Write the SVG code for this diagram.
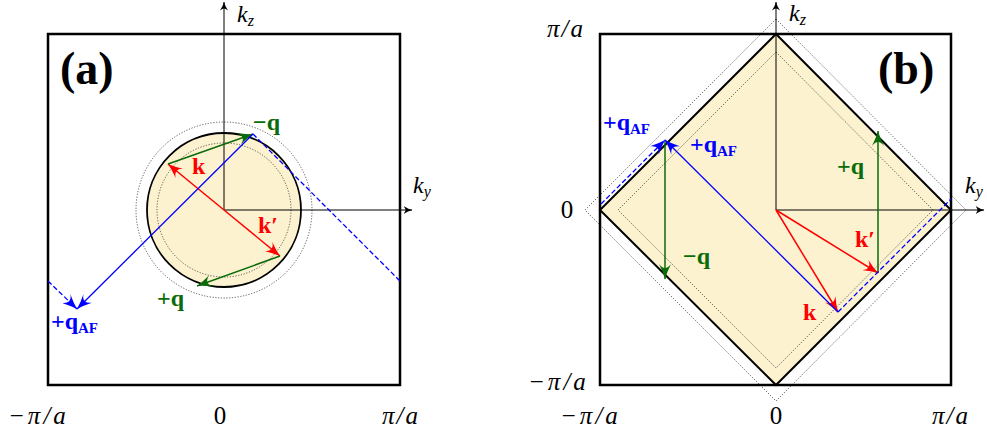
<svg xmlns="http://www.w3.org/2000/svg" width="987" height="436" viewBox="0 0 987 436" font-family="Liberation Serif">
<defs>
<marker id="hR" refX="15" refY="6" markerWidth="16" markerHeight="12" markerUnits="userSpaceOnUse" orient="auto"><path d="M15,6 Q8,4 0,0 Q4,3 4,6 Q4,9 0,12 Q8,8 15,6Z" fill="#f00"/></marker>
<marker id="hG" refX="15" refY="6" markerWidth="16" markerHeight="12" markerUnits="userSpaceOnUse" orient="auto"><path d="M15,6 Q8,4 0,0 Q4,3 4,6 Q4,9 0,12 Q8,8 15,6Z" fill="#0a6b0a"/></marker>
<marker id="hB" refX="15" refY="6" markerWidth="16" markerHeight="12" markerUnits="userSpaceOnUse" orient="auto"><path d="M15,6 Q8,4 0,0 Q4,3 4,6 Q4,9 0,12 Q8,8 15,6Z" fill="#00f"/></marker>
<marker id="hK" refX="8.5" refY="4" markerWidth="9" markerHeight="8" markerUnits="userSpaceOnUse" orient="auto"><path d="M9,4 Q4,3 0,0 Q2,2.5 2,4 Q2,5.5 0,8 Q4,5 9,4Z" fill="#000"/></marker>
</defs>
<rect width="987" height="436" fill="#fff"/>

<g id="panel-a">
  <circle id="fermi-a" cx="224" cy="210" r="77" fill="#fcf2cf" stroke="#000" stroke-width="1.8"/>
  <g fill="none" stroke="#333" stroke-width="0.8" stroke-dasharray="1.2 1.6">
    <circle cx="224" cy="210" r="67"/>
    <circle cx="224" cy="210" r="88"/>
  </g>
  <rect id="box-a" x="48" y="34" width="352" height="351" fill="none" stroke="#000" stroke-width="2.5"/>
  <g fill="none" stroke="#000" stroke-width="1">
    <path d="M224,210 V2" marker-end="url(#hK)"/>
    <path d="M224,210 H412" marker-end="url(#hK)"/>
  </g>
  <text font-family="Liberation Serif" font-weight="bold" font-size="46" x="60" y="84">(a)</text>
  <text font-family="Liberation Serif" font-style="italic" font-size="24" x="237" y="22">k<tspan font-size="16" dy="4">z</tspan></text>
  <text font-family="Liberation Serif" font-style="italic" font-size="24" x="413" y="193">k<tspan font-size="16" dy="4">y</tspan></text>
  <text font-family="Liberation Serif" font-style="italic" font-size="25" x="8" y="424" letter-spacing="3">−π/a</text>
  <text font-family="Liberation Serif" font-size="25" x="220" y="424" text-anchor="middle">0</text>
  <text font-family="Liberation Serif" font-style="italic" font-size="25" x="382" y="424" letter-spacing="2">π/a</text>
</g>

<g id="panel-b">
  <polygon id="bz-b" points="776,34 951,210 776,385 600,210" fill="#fcf2cf" stroke="#000" stroke-width="2"/>
  <g fill="none" stroke="#333" stroke-width="0.8" stroke-dasharray="1.2 1.6">
    <polygon points="776,52 933,210 776,368 618,210"/>
    <polygon points="776,19 966,210 776,401 585,210"/>
  </g>
  <rect id="box-b" x="600" y="34" width="351" height="351" fill="none" stroke="#000" stroke-width="2.5"/>
  <g fill="none" stroke="#000" stroke-width="1">
    <path d="M776,210 V2" marker-end="url(#hK)"/>
    <path d="M776,210 H984" marker-end="url(#hK)"/>
  </g>
  <text font-family="Liberation Serif" font-weight="bold" font-size="46" x="878" y="84">(b)</text>
  <text font-family="Liberation Serif" font-style="italic" font-size="24" x="789" y="21">k<tspan font-size="16" dy="4">z</tspan></text>
  <text font-family="Liberation Serif" font-style="italic" font-size="24" x="965" y="193">k<tspan font-size="16" dy="4">y</tspan></text>
  <text font-family="Liberation Serif" font-style="italic" font-size="25" x="547" y="37" letter-spacing="2">π/a</text>
  <text font-family="Liberation Serif" font-size="25" x="567" y="218" text-anchor="middle">0</text>
  <text font-family="Liberation Serif" font-style="italic" font-size="25" x="528" y="390" letter-spacing="3">−π/a</text>
  <text font-family="Liberation Serif" font-style="italic" font-size="25" x="560" y="424" letter-spacing="3">−π/a</text>
  <text font-family="Liberation Serif" font-size="25" x="776" y="424" text-anchor="middle">0</text>
  <text font-family="Liberation Serif" font-style="italic" font-size="25" x="932" y="424" letter-spacing="2">π/a</text>
</g>

<g id="connectors" fill="none" stroke-width="1.5">
  <g stroke="#f00">
    <path d="M224,210 L168,164" marker-end="url(#hR)"/>
    <path d="M224,210 L280,256" marker-end="url(#hR)"/>
    <path d="M776,210 L838,312" marker-end="url(#hR)"/>
    <path d="M776,210 L878,273" marker-end="url(#hR)"/>
  </g>
  <g stroke="#0a6b0a">
    <path d="M168,164 L253,134" marker-end="url(#hG)"/>
    <path d="M280,256 L197,286" marker-end="url(#hG)"/>
    <path d="M878,273 L878,131" marker-end="url(#hG)"/>
    <path d="M665,140 L665,279" marker-end="url(#hG)"/>
  </g>
  <g stroke="#00f" stroke-width="1.3">
    <path d="M253,134 L77,309" marker-end="url(#hB)"/>
    <path d="M838,312 L665,140" marker-end="url(#hB)"/>
  </g>
  <g stroke="#00f" stroke-width="1.3" stroke-dasharray="5 2.5">
    <path d="M253,134 L400,281"/>
    <path d="M48,281 L77,309" marker-end="url(#hB)"/>
    <path d="M838,312 L951,199"/>
    <path d="M601,204 L665,140" marker-end="url(#hB)"/>
  </g>
</g>

<g id="labels" font-weight="bold" font-size="24">
  <text font-family="Liberation Serif" fill="#0a6b0a" x="253" y="130">−q</text>
  <text font-family="Liberation Serif" fill="#f00" x="192" y="174">k</text>
  <text font-family="Liberation Serif" fill="#f00" x="258" y="233">k′</text>
  <text font-family="Liberation Serif" fill="#0a6b0a" x="157" y="306">+q</text>
  <text font-family="Liberation Serif" fill="#00f" x="51" y="329">+q<tspan font-size="15" dy="4">AF</tspan></text>
  <text font-family="Liberation Serif" fill="#00f" x="603" y="130">+q<tspan font-size="15" dy="4">AF</tspan></text>
  <text font-family="Liberation Serif" fill="#00f" x="690" y="152">+q<tspan font-size="15" dy="4">AF</tspan></text>
  <text font-family="Liberation Serif" fill="#0a6b0a" x="683" y="264">−q</text>
  <text font-family="Liberation Serif" fill="#0a6b0a" x="837" y="174">+q</text>
  <text font-family="Liberation Serif" fill="#f00" x="855" y="247">k′</text>
  <text font-family="Liberation Serif" fill="#f00" x="803" y="320">k</text>
</g>
</svg>
